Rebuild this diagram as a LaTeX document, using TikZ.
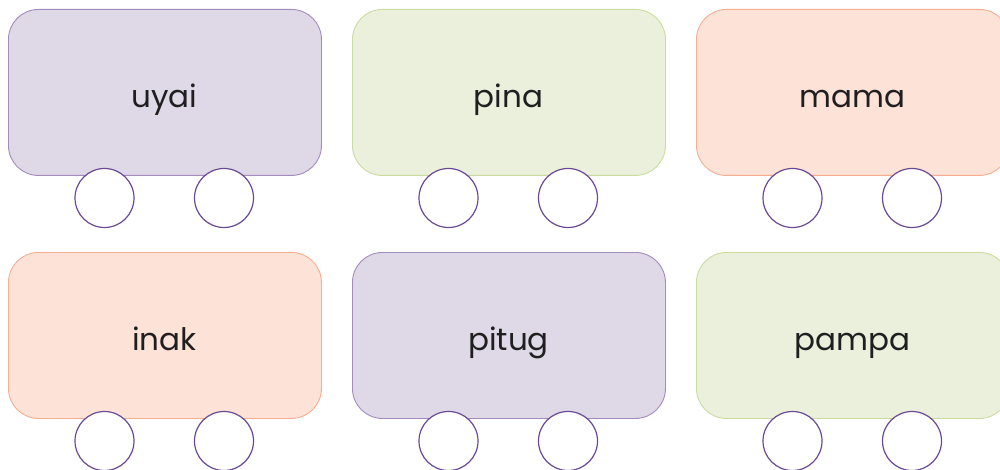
\documentclass[tikz,border=0pt]{standalone}
\usepackage{fontspec}
\setmainfont{Poppins}
\definecolor{purfill}{HTML}{DFD8E6}
\definecolor{purline}{HTML}{A48BBE}
\definecolor{grnfill}{HTML}{EBF0DC}
\definecolor{grnline}{HTML}{CADC9E}
\definecolor{orgfill}{HTML}{FDE2D8}
\definecolor{orgline}{HTML}{F7AE90}
\definecolor{wheelline}{HTML}{6A4A94}
\begin{document}
\begin{tikzpicture}[x=1pt,y=-1pt,
  car/.style={draw, line width=0.9pt, rounded corners=30pt, minimum width=313pt, minimum height=166pt, anchor=north west, inner sep=0pt},
  purcar/.style={car, fill=purfill, draw=purline},
  grncar/.style={car, fill=grnfill, draw=grnline},
  orgcar/.style={car, fill=orgfill, draw=orgline},
  wheel/.style={circle, draw=wheelline, fill=white, line width=1.2pt, minimum size=59pt, inner sep=0pt},
  word/.style={anchor=base, font=\fontsize{31}{36}\selectfont, text=black!88}]
\useasboundingbox (0,0) rectangle (1000,470);
\clip (0,0) rectangle (1000,470);
% row 1
\node[purcar] (c1) at (8,9) {};
\node[grncar] (c2) at (352,9) {};
\node[orgcar] (c3) at (696,9) {};
% row 2
\node[orgcar] (c4) at (8,252) {};
\node[purcar] (c5) at (352,252) {};
\node[grncar] (c6) at (696,252) {};
% words
\node[word] (t1) at (164.5,108) {uyai};
\node[word] (t2) at (508.5,108) {pina};
\node[word] (t3) at (852.5,108) {mama};
\node[word] (t4) at (164.5,350) {inak};
\node[word] (t5) at (508.5,350) {pitug};
\node[word] (t6) at (852.5,350) {pampa};
% wheels
\foreach \n/\x/\y in {1/8/9, 2/352/9, 3/696/9, 4/8/252, 5/352/252, 6/696/252}{
  \node[wheel] (w\n a) at (\x+96.5,\y+189) {};
  \node[wheel] (w\n b) at (\x+216,\y+189) {};
}
\end{tikzpicture}
\end{document}
